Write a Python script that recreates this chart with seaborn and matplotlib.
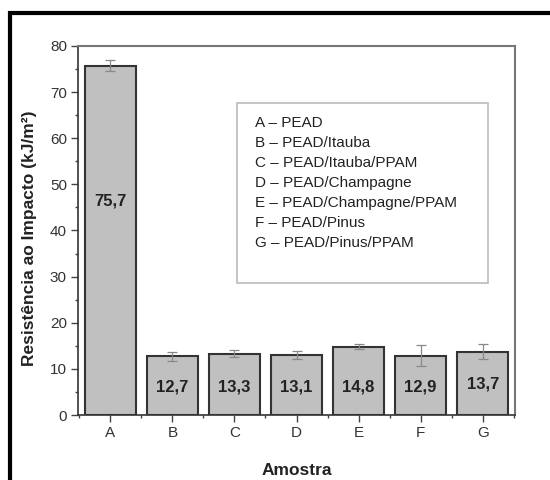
import matplotlib
matplotlib.use("Agg")
import matplotlib.pyplot as plt
from matplotlib.patches import Rectangle
from matplotlib.ticker import MultipleLocator, FixedLocator
import seaborn as sns
import pandas as pd

categories = ["A", "B", "C", "D", "E", "F", "G"]
values = [75.7, 12.7, 13.3, 13.1, 14.8, 12.9, 13.7]
errors = [1.2, 0.9, 0.8, 0.85, 0.55, 2.2, 1.6]
value_labels = ["75,7", "12,7", "13,3", "13,1", "14,8", "12,9", "13,7"]
label_y = [46.5, 6.0, 6.0, 6.0, 6.0, 6.0, 6.8]
legend_lines = [
    "A – PEAD",
    "B – PEAD/Itauba",
    "C – PEAD/Itauba/PPAM",
    "D – PEAD/Champagne",
    "E – PEAD/Champagne/PPAM",
    "F – PEAD/Pinus",
    "G – PEAD/Pinus/PPAM",
]

sns.set_style("white")
plt.rcParams['font.family'] = ['Liberation Sans', 'DejaVu Sans']

df = pd.DataFrame({"Amostra": categories, "valor": values})

fig = plt.figure(figsize=(5.5, 4.8), dpi=100)
ax = fig.add_axes([0.1418, 0.1354, 0.7946, 0.7688])

sns.barplot(data=df, x="Amostra", y="valor", color="#c0c0c0", saturation=1,
            edgecolor="#333333", linewidth=1.5, width=0.82, errorbar=None, ax=ax)
ax.errorbar(range(len(categories)), values, yerr=errors, fmt="none",
            ecolor="#888888", elinewidth=0.9, capsize=3.5, capthick=0.9, zorder=5)

for i, (lab, yy) in enumerate(zip(value_labels, label_y)):
    ax.text(i, yy, lab, ha="center", va="center", fontsize=12,
            fontweight="bold", color="#222222", zorder=6)

ax.set_xlim(-0.52, 6.52)
ax.set_ylim(0, 80)
ax.yaxis.set_major_locator(MultipleLocator(10))
ax.yaxis.set_minor_locator(MultipleLocator(5))
ax.xaxis.set_minor_locator(FixedLocator([i + 0.5 for i in range(-1, 7)]))

ax.tick_params(axis="both", which="major", direction="out", length=5, width=1,
               color="#444444", labelcolor="#333333", labelsize=11, pad=3)
ax.tick_params(axis="both", which="minor", direction="out", length=2.5, width=1,
               color="#444444")
ax.tick_params(left=True, bottom=True, which="both")

for s in ["left", "bottom"]:
    ax.spines[s].set_color("#333333")
    ax.spines[s].set_linewidth(1.2)
for s in ["top", "right"]:
    ax.spines[s].set_color("#777777")
    ax.spines[s].set_linewidth(1.5)

ax.set_xlabel("Amostra", fontsize=12.5, fontweight="bold", color="#222222")
ax.set_ylabel("Resistência ao Impacto (kJ/m²)", fontsize=12.5, fontweight="bold",
              color="#222222")
ax.yaxis.set_label_coords(-0.094, 0.48)
ax.xaxis.set_label_coords(0.5, -0.13)

# legend text box
ax.add_patch(Rectangle((0.364, 0.358), 0.574, 0.4875, transform=ax.transAxes,
                       facecolor="white", edgecolor="#bbbbbb", linewidth=1.2,
                       zorder=4))
for i, line in enumerate(legend_lines):
    ax.text(0.405, 0.791 - i * 0.0542, line, transform=ax.transAxes,
            ha="left", va="center", fontsize=11, color="#222222", zorder=6)

# outer frame
fig.patches.append(Rectangle((0.018, -0.05), 1.1, 0.973 + 0.05,
                             transform=fig.transFigure, fill=False,
                             edgecolor="black", linewidth=3))

fig.savefig("out.png", dpi=100)
